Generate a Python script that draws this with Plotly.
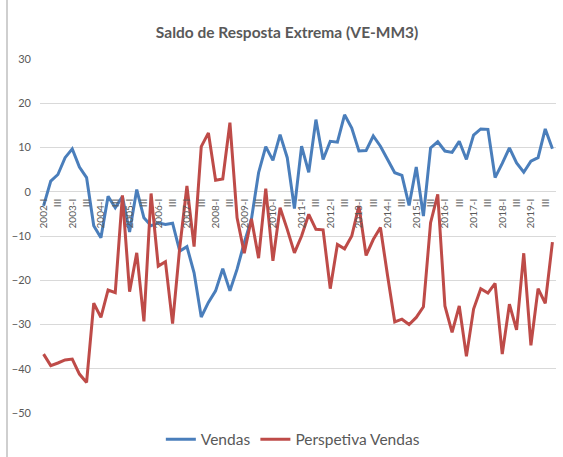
import plotly.graph_objects as go

years = list(range(2002, 2020))
quarters = ["I", "II", "III", "IV"]
categories = [f"{y}-{q}" for y in years for q in quarters]

vendas = [-3.2, 2.4, 3.9, 7.7, 9.7, 5.6, 3.2, -7.7, -10.4, -1.0, -3.6, -1.1,
          -9.1, 0.5, -5.9, -7.7, -7.0, -7.4, -7.1, -13.4, -12.4, -18.3, -28.3, -25.0,
          -22.4, -17.4, -22.4, -17.5, -11.5, -6.2, 4.3, 10.2, 7.1, 12.9, 7.7, -3.8,
          10.3, 4.4, 16.3, 7.3, 11.4, 11.2, 17.4, 14.4, 9.2, 9.3, 12.6, 10.3,
          7.3, 4.3, 3.7, -3.1, 5.6, -5.5, 9.9, 11.3, 9.2, 8.9, 11.4, 7.3,
          12.8, 14.2, 14.1, 3.2, 6.4, 9.9, 6.5, 4.4, 6.9, 7.7, 14.2, 9.7]

perspetiva = [-36.7, -39.3, -38.7, -38.0, -37.8, -41.2, -43.1, -25.2, -28.4, -22.2, -22.8, -0.8,
              -22.6, -13.8, -29.3, -0.4, -16.8, -15.8, -29.8, -12.6, 1.3, -12.4, 10.2, 13.3,
              2.6, 2.9, 15.6, -5.9, -13.9, -6.1, -15.0, 0.7, -15.6, -3.6, -8.5, -13.8,
              -10.0, -5.1, -8.5, -8.6, -21.9, -11.9, -12.9, -10.0, -3.2, -14.4, -10.8, -8.1,
              -19.0, -29.4, -28.8, -30.0, -28.4, -26.0, -7.0, -0.6, -25.8, -31.8, -25.8, -37.2,
              -26.5, -21.9, -22.9, -20.7, -36.7, -25.4, -31.2, -13.9, -34.7, -21.9, -25.2, -11.4]

tick_positions = list(range(0, len(categories), 2))
tick_labels = [f"{c.split('-')[0]}-I" if c.endswith("-I") else "III"
               for c in (categories[i] for i in tick_positions)]

y_ticks = [30, 20, 10, 0, -10, -20, -30, -40, -50]

x = list(range(len(categories)))
GRAY = "#595959"
FONT = "Lato"

fig = go.Figure()
fig.add_trace(go.Scatter(x=x, y=vendas, mode="lines", name="Vendas",
                         line=dict(color="#4A7EBB", width=3)))
fig.add_trace(go.Scatter(x=x, y=perspetiva, mode="lines", name="Perspetiva Vendas",
                         line=dict(color="#BE4B48", width=3)))

fig.update_layout(
    width=563, height=457,
    margin=dict(l=40, r=7, t=59, b=44, autoexpand=False),
    paper_bgcolor="white", plot_bgcolor="white",
    font=dict(family=FONT, color=GRAY),
    hovermode=False,
    title=dict(text="<b>Saldo de Resposta Extrema (VE-MM3)</b>",
               x=0.51, xanchor="center", y=1 - 33 / 457, yanchor="middle",
               font=dict(size=15.5, color=GRAY, family=FONT), automargin=False),
    showlegend=True,
    legend=dict(orientation="h", x=0.49, xanchor="center",
                y=(413.3 - 440) / 354, yanchor="middle",
                font=dict(size=15.5, color=GRAY, family=FONT),
                itemwidth=30, tracegroupgap=0),
    xaxis=dict(range=[-0.5, len(categories) - 0.5], anchor="free",
               position=50 / 80, tickmode="array", tickvals=tick_positions,
               ticktext=tick_labels, tickangle=-90, showgrid=False,
               zeroline=False, showline=False, ticks="", automargin=False,
               ticklabelstandoff=4,
               tickfont=dict(size=10, color=GRAY, family=FONT)),
    yaxis=dict(range=[-50, 30], tickmode="array", tickvals=y_ticks,
               gridcolor="#D9D9D9", gridwidth=1, zeroline=True,
               zerolinecolor="#D9D9D9", zerolinewidth=1, ticks="",
               ticklabelstandoff=8, automargin=False,
               tickfont=dict(size=11, color=GRAY, family=FONT)),
)

fig.add_shape(type="line", xref="paper", yref="paper",
              x0=-33 / 516, x1=-33 / 516, y0=-0.13, y1=1.17,
              line=dict(color="#CFCFCF", width=2))

fig.write_html("out.html", config={"displayModeBar": False},
               post_script="document.body.style.margin='0';document.body.style.overflow='hidden';")
